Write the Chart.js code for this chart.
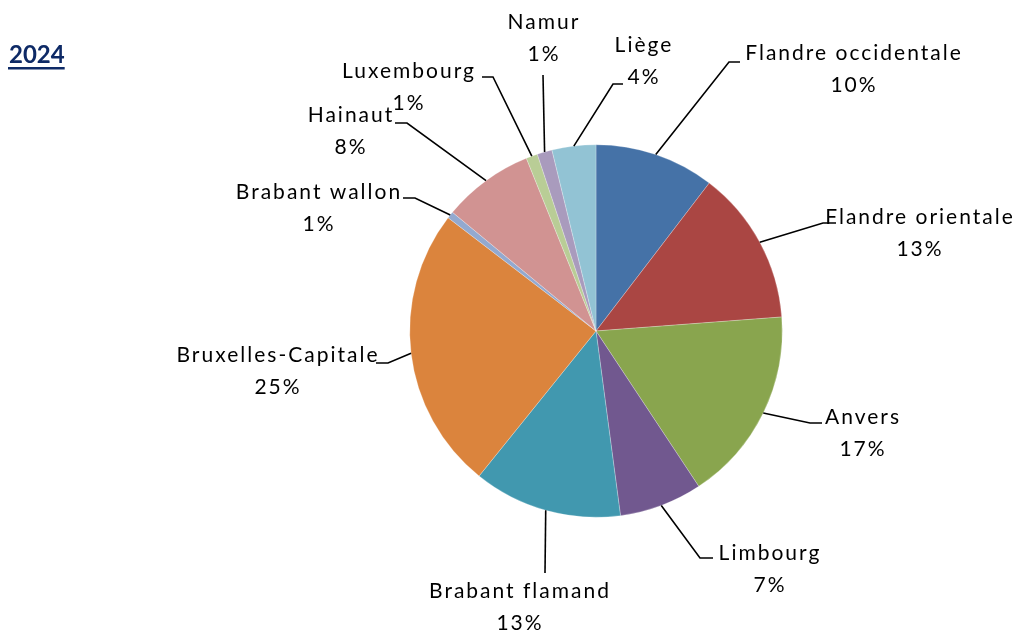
<!DOCTYPE html>
<html>
<head>
<meta charset="utf-8">
<script src="https://cdn.jsdelivr.net/npm/chart.js@4.4.1/dist/chart.umd.min.js"></script>
<style>
    body { margin: 0; background: #ffffff; }
    #wrap { position: relative; width: 1031px; height: 634px; }
</style>
</head>
<body>
<div id="wrap"><canvas id="graficoProvinces"></canvas></div>
<script>
// Données (part en %)
var provinces = ['Flandre occidentale', 'Flandre orientale', 'Anvers', 'Limbourg', 'Brabant flamand',
    'Bruxelles-Capitale', 'Brabant wallon', 'Hainaut', 'Luxembourg', 'Namur', 'Liège'];
var parts = [10.4, 13.4, 16.9, 7.2, 12.9, 24.6, 0.6, 7.9, 1.0, 1.3, 3.8];
var couleurs = ['#4572A7', '#AA4643', '#89A54E', '#71588F', '#4198AF', '#DB843D',
    '#93A9CF', '#D19392', '#B9CD96', '#A99BBD', '#92C3D4'];
var titre = '2024';

// Position des étiquettes (centre du texte) et coude des traits de rappel
var posEtiquettes = [
    { x: 853, y: 53, trait: [[740, 62], [729, 62]] },
    { x: 919, y: 217, trait: [[836, 223], [823, 223]] },
    { x: 862, y: 417, trait: [[822, 423], [810, 423]] },
    { x: 769, y: 553, trait: [[713, 558], [700, 558]] },
    { x: 519, y: 591, trait: [[545, 573]] },
    { x: 277, y: 355, trait: [[376, 363], [388, 363]] },
    { x: 318, y: 192, trait: [[403, 198], [415, 198]] },
    { x: 350, y: 115, trait: [[395, 123], [407, 123]] },
    { x: 408, y: 71, trait: [[482, 77], [493, 77]] },
    { x: 543, y: 22, trait: [[543, 75]] },
    { x: 643, y: 45, trait: [[623, 84], [613, 84]] }
];

var etiquettesPlugin = {
    id: 'etiquettes',
    afterDatasetsDraw: function (chart) {
        var ctx = chart.ctx;
        var meta = chart.getDatasetMeta(0);
        var total = parts.reduce(function (a, b) { return a + b; }, 0);
        ctx.save();
        ctx.strokeStyle = '#000000';
        ctx.lineWidth = 1.6;
        meta.data.forEach(function (arc, i) {
            var p = posEtiquettes[i];
            var mid = (arc.startAngle + arc.endAngle) / 2;
            var sx = arc.x + Math.cos(mid) * arc.outerRadius;
            var sy = arc.y + Math.sin(mid) * arc.outerRadius;
            // trait de rappel : de la part vers l'étiquette
            var pts = p.trait.slice().reverse();
            ctx.beginPath();
            ctx.moveTo(sx, sy);
            pts.forEach(function (pt) { ctx.lineTo(pt[0], pt[1]); });
            ctx.stroke();

            ctx.fillStyle = '#000000';
            ctx.font = '21px Lato';
            ctx.letterSpacing = '2px';
            ctx.textAlign = 'center';
            ctx.textBaseline = 'middle';
            ctx.fillText(provinces[i], p.x + 1, p.y);
            ctx.fillText(Math.round(parts[i] / total * 100) + '%', p.x + 1, p.y + 32);
        });

        // titre souligné
        ctx.letterSpacing = '0px';
        ctx.fillStyle = '#0E2A66';
        ctx.font = 'bold 24px Lato';
        ctx.textAlign = 'left';
        ctx.textBaseline = 'alphabetic';
        ctx.fillText(titre, 9, 63);
        var w = ctx.measureText(titre).width;
        ctx.fillRect(8, 67, w + 1, 2.5);
        ctx.restore();
    }
};

new Chart(document.getElementById('graficoProvinces'), {
    type: 'pie',
    data: {
        labels: provinces,
        datasets: [{
            data: parts,
            backgroundColor: couleurs,
            borderColor: 'rgba(255, 255, 255, 0.5)',
            borderWidth: 0.5
        }]
    },
    options: {
        responsive: true,
        maintainAspectRatio: false,
        animation: false,
        layout: {
            padding: { left: 409.5, right: 248.5, top: 144.5, bottom: 116.5 }
        },
        plugins: {
            legend: { display: false },
            tooltip: { enabled: false }
        }
    },
    plugins: [etiquettesPlugin]
});
</script>
</body>
</html>
